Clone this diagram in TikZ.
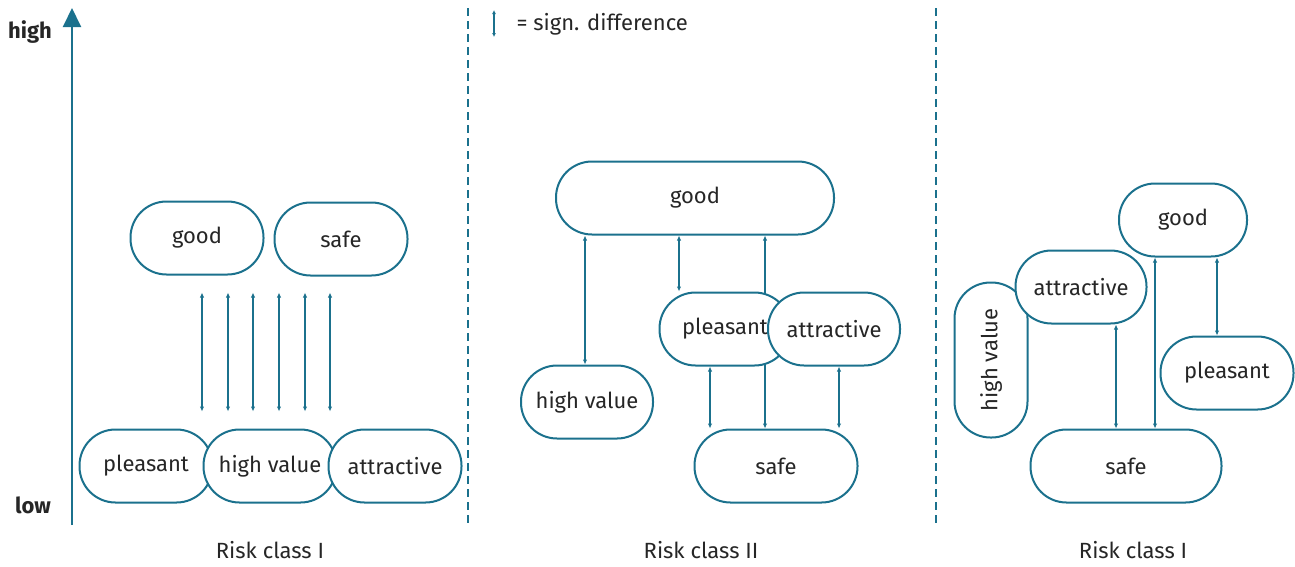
\documentclass[tikz,border=0pt]{standalone}
\usepackage{fontspec}
\setmainfont{Fira Sans}
\usetikzlibrary{arrows.meta}
\definecolor{tealc}{RGB}{27,113,141}
\definecolor{ink}{RGB}{38,38,38}
\tikzset{
  >={Latex[length=5pt,width=4.5pt]},
  pill/.style={rectangle, rounded corners=36pt, draw=tealc, line width=2pt, fill=white,
               minimum width=#1, minimum height=73pt, inner sep=0pt, text=ink,
               font=\fontsize{22}{26}\selectfont},
  pill/.default=133pt,
  sig/.style={<->, draw=tealc, line width=2pt},
  divider/.style={tealc, line width=2pt, dash pattern=on 8pt off 5pt},
  caption/.style={text=ink, font=\fontsize{22}{26}\selectfont},
  axislabel/.style={text=ink, font=\fontsize{22}{26}\selectfont\bfseries}
}

\begin{document}
\begin{tikzpicture}[x=1pt,y=-1pt]
  \useasboundingbox (0,0) rectangle (1295,566);

  % Vertical axis and panel dividers.
  \coordinate (axlow) at (72,525);
  \coordinate (axhigh) at (72,8);
  \draw[tealc, line width=2pt, -{Triangle[length=19pt,width=18pt]}] (axlow) -- (axhigh);
  \node[axislabel] (high) at (30,32) {high};
  \node[axislabel] (low) at (33,505) {low};
  \draw[divider] (468,8) -- (468,525);
  \draw[divider] (936,8) -- (936,525);

  % Legend.
  \coordinate (legtop) at (494,10);
  \coordinate (legbot) at (494,37);
  \draw[sig, line width=1.6pt, >={Latex[length=4pt,width=4pt]}] (legtop) -- (legbot);
  \node[caption, anchor=west] (legend) at (513,24) {= sign. difference};

  % Risk class I.
  \node[pill] (good1) at (197,238) {good};
  \node[pill] (safe1) at (341,239) {safe};
  \node[pill] (plea1) at (146,466) {pleasant};
  \node[pill] (hv1) at (270,466) {high value};
  \node[pill] (attr1) at (395,466) {attractive};
  \foreach \x in {202,228,253,279,305,330}
    \draw[sig, shorten <=17pt, shorten >=17pt] (good1.south -| \x,0) -- (hv1.north -| \x,0);
  \node[caption] (cap1) at (270,550) {Risk class I};

  % Risk class II.
  \node[pill=278pt] (good2) at (695,198) {good};
  \node[pill=163pt] (safe2) at (776,466) {safe};
  \draw[sig] (good2.south -| 765,0) -- (safe2.north -| 765,0);
  \node[pill=131pt] (plea2) at (725,329) {pleasant};
  \node[pill=132pt] (attr2) at (834,329) {attractive};
  \node[pill=132pt] (hv2) at (587,402) {high value};
  \draw[sig] (good2.south -| 585,0) -- (hv2.north -| 585,0);
  \draw[sig] (good2.south -| 679,0) -- (plea2.north -| 679,0);
  \draw[sig] (plea2.south -| 710,0) -- (safe2.north -| 710,0);
  \draw[sig] (attr2.south -| 839,0) -- (safe2.north -| 839,0);
  \node[caption] (cap2) at (701,550) {Risk class II};

  % Risk class I (second group).
  \node[pill=128pt] (good3) at (1183,220) {good};
  \node[pill=155pt, rotate=90] (hv3) at (991,360) {high value};
  \node[pill=131pt] (attr3) at (1081,287) {attractive};
  \node[pill=133pt] (plea3) at (1227,373) {pleasant};
  \node[pill=191pt] (safe3) at (1126,466) {safe};
  \draw[sig] (attr3.south -| 1116,0) -- (safe3.north -| 1116,0);
  \draw[sig] (good3.south -| 1155,0) -- (safe3.north -| 1155,0);
  \draw[sig] (good3.south -| 1217,0) -- (plea3.north -| 1217,0);
  \node[caption] (cap3) at (1133,550) {Risk class I};
\end{tikzpicture}
\end{document}
